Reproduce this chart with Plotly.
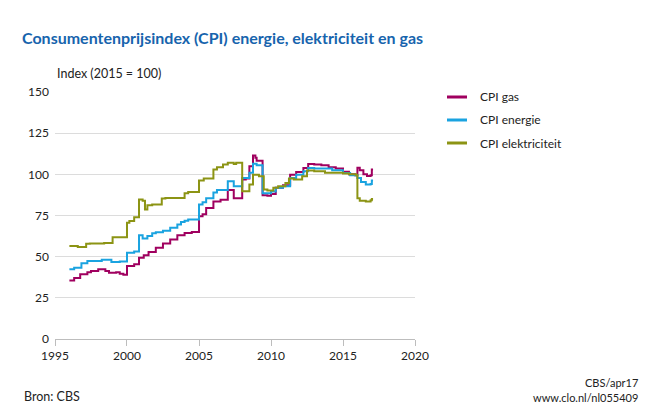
import plotly.graph_objects as go

# ---- data (step change points, monthly) ----
gas_dates = ["1996-01","1996-05","1996-10","1997-04","1997-07","1998-01","1998-07","1998-10","1999-04","1999-07","1999-10",
             "2000-01","2000-07","2000-11","2001-03","2001-07","2002-01","2002-07","2003-01","2003-07","2004-01","2004-07",
             "2005-01","2005-04","2005-07","2006-01","2006-07","2007-01","2007-06","2008-01","2008-04","2008-07","2008-10",
             "2008-12","2009-01","2009-06","2009-10","2010-01","2010-05","2010-11","2011-05","2011-10","2012-04","2012-08",
             "2013-01","2013-07","2014-01","2014-07","2015-01","2015-06","2015-11","2016-01","2016-03","2016-06","2016-09",
             "2016-12","2017-01","2017-02"]
gas_values = [35.5,37.0,39.3,40.5,41.3,42.3,41.3,40.3,40.5,39.7,39.0,
              44.4,45.4,49.4,50.8,52.8,55.4,58.0,60.5,63.0,64.3,65.0,
              74.5,75.8,79.5,83.5,84.5,90.5,85.5,96.8,97.5,104.9,111.5,
              110.0,108.3,87.3,87.0,88.0,91.8,93.4,99.8,101.4,103.8,106.3,
              105.9,105.5,104.3,103.5,101.5,100.0,99.5,104.0,102.5,100.0,99.0,
              99.5,103.0,103.0]

energie_dates = ["1996-01","1996-05","1996-11","1997-04","1998-04","1998-12","1999-07","2000-01","2000-07","2000-11",
                 "2001-02","2001-06","2001-10","2002-01","2002-07","2003-01","2003-07","2003-10","2004-01","2004-04",
                 "2005-01","2005-04","2005-07","2006-01","2006-04","2007-01","2007-06","2008-01","2008-07","2008-10",
                 "2009-01","2009-06","2010-01","2010-05","2010-11","2011-05","2011-10","2012-04","2012-08","2013-01",
                 "2014-04","2015-01","2015-07","2016-01","2016-04","2016-08","2016-12","2017-01","2017-02"]
energie_values = [42.3,43.3,46.0,47.3,48.2,46.8,47.0,52.4,53.2,63.0,
                  61.0,62.6,64.2,64.8,65.8,67.5,69.5,71.0,71.8,72.6,
                  81.7,83.0,85.5,89.0,90.5,95.8,92.8,97.8,100.9,106.5,
                  105.5,88.5,89.5,91.8,92.8,97.8,99.8,101.8,103.9,103.5,
                  102.5,100.8,99.5,97.8,95.4,93.8,94.2,96.2,96.2]

elek_dates = ["1996-01","1996-08","1997-03","1997-06","1998-06","1999-01","2000-01","2000-03","2000-07","2000-11",
              "2001-02","2001-04","2001-06","2001-10","2002-06","2002-09","2004-01","2004-04","2005-01","2005-05",
              "2006-01","2006-04","2006-09","2007-01","2007-06","2007-08","2008-01","2008-07","2008-10","2009-03",
              "2009-07","2009-10","2010-03","2010-07","2011-01","2011-04","2011-08","2012-03","2012-07","2013-01",
              "2013-10","2015-01","2015-06","2015-12","2016-01","2016-03","2016-08","2016-12","2017-01","2017-02"]
elek_values = [56.5,55.9,57.9,58.0,58.3,61.8,70.6,71.6,74.0,84.7,
               84.0,78.7,81.3,81.7,85.3,85.7,88.5,89.2,96.3,97.4,
               103.0,104.3,106.0,107.0,106.3,107.0,89.8,93.8,99.8,98.8,
               90.8,90.2,91.8,92.8,94.8,97.4,96.8,98.8,102.3,101.8,
               100.9,100.5,100.0,99.5,85.5,84.0,83.5,84.2,85.0,85.0]

series_names = ["CPI gas", "CPI energie", "CPI elektriciteit"]
series_colors = ["#a0005f", "#1aa3e0", "#8c9414"]

tick_years = [1995, 2000, 2005, 2010, 2015, 2020]
y_ticks = [0, 25, 50, 75, 100, 125, 150]

title_text = "Consumentenprijsindex (CPI) energie, elektriciteit en gas"
y_label = "Index (2015 = 100)"
source_text = "Bron: CBS"
credit_lines = ["CBS/apr17", "www.clo.nl/nl055409"]

FONT = "Lato"

fig = go.Figure()
data = [(gas_dates, gas_values), (energie_dates, energie_values), (elek_dates, elek_values)]
for (d, v), name, col in zip(data, series_names, series_colors):
    fig.add_trace(go.Scatter(x=[s + "-01" for s in d], y=v, mode="lines", name=name,
                             line=dict(color=col, width=2, shape="hv"), showlegend=False))

# page body has an 8px margin: work in page pixels and offset
OFF = 8
W, H = 660 - OFF, 407 - OFF
L, R, T, B = 55 - OFF, 415 - OFF, 92 - OFF, 339 - OFF
def px(x):
    return (x - OFF - L) / (R - L)
def py(y):
    return (B - (y - OFF)) / (B - T)

fig.update_layout(
    width=W, height=H,
    margin=dict(l=L, r=W - R, t=T, b=H - B),
    paper_bgcolor="white", plot_bgcolor="white",
    font=dict(family=FONT, size=12, color="#222222"),
    title=dict(text=title_text, x=(22 - OFF) / W, xref="container", xanchor="left",
               y=1 - (38 - OFF) / H, yref="container", yanchor="middle",
               font=dict(family=FONT, size=16, color="#1764ad", weight="bold")),
    xaxis=dict(type="date", range=["1995-01-01", "2020-01-01"],
               tickvals=[f"{y}-01-01" for y in tick_years], ticktext=[str(y) for y in tick_years],
               showgrid=False, showline=True, linecolor="#bdbdbd", linewidth=1,
               ticks="outside", ticklen=6, tickcolor="#bdbdbd", tickwidth=1,
               tickfont=dict(size=12, color="#222222"), zeroline=False, fixedrange=True),
    yaxis=dict(range=[0, 150], tickvals=y_ticks, showgrid=True, gridcolor="#dcdcdc", gridwidth=1,
               zeroline=False, showline=False, ticks="", ticklabelstandoff=5,
               tickfont=dict(size=12, color="#222222"), fixedrange=True),
)

ann = [
    dict(text=y_label, x=0, y=py(73), xanchor="left", yanchor="middle", font=dict(size=12.5)),
    dict(text=source_text, x=px(22), y=py(396), xanchor="left", yanchor="middle", font=dict(size=12.5)),
    dict(text=credit_lines[0], x=px(640), y=py(382), xanchor="right", yanchor="middle", font=dict(size=11)),
    dict(text=credit_lines[1], x=px(640), y=py(397), xanchor="right", yanchor="middle", font=dict(size=11)),
]
shapes = []
rows = [97, 120, 143]
for name, col, ry in zip(series_names, series_colors, rows):
    shapes.append(dict(type="line", xref="paper", yref="paper", x0=px(447), x1=px(467), y0=py(ry), y1=py(ry),
                       line=dict(color=col, width=3)))
    ann.append(dict(text=name, x=px(478), y=py(ry), xanchor="left", yanchor="middle", font=dict(size=12)))
for a in ann:
    a.update(xref="paper", yref="paper", showarrow=False)
fig.update_layout(annotations=ann, shapes=shapes)

fig.write_html("out.html")
